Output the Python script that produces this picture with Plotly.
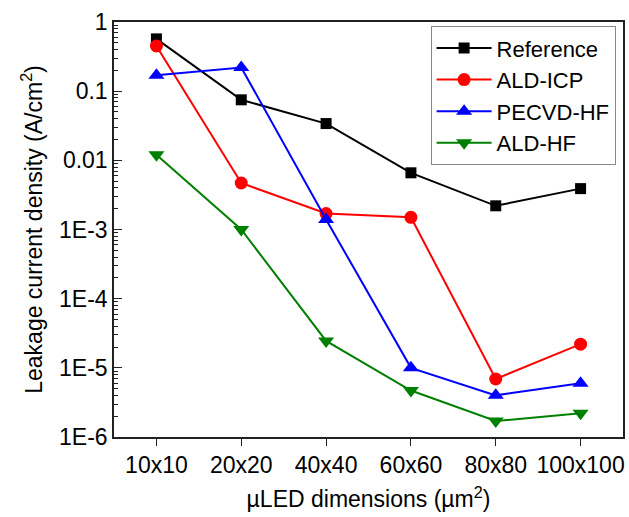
import plotly.graph_objects as go

categories = ["10x10", "20x20", "40x40", "60x60", "80x80", "100x100"]
reference = [0.57, 0.075, 0.034, 0.0066, 0.0022, 0.0039]
ald_icp = [0.45, 0.0047, 0.0017, 0.0015, 6.9e-6, 2.2e-5]
pecvd_hf = [0.17, 0.22, 0.0014, 1.0e-5, 4.0e-6, 6.0e-6]
ald_hf = [0.012, 0.001, 2.45e-5, 4.7e-6, 1.7e-6, 2.2e-6]

ytick_vals = [1e-6, 1e-5, 1e-4, 1e-3, 1e-2, 1e-1, 1]
ytick_text = ["1E-6", "1E-5", "1E-4", "1E-3", "0.01", "0.1", "1"]

series = [
    ("Reference", reference, "black", "square", 11),
    ("ALD-ICP", ald_icp, "red", "circle", 13),
    ("PECVD-HF", pecvd_hf, "blue", "triangle-up", 14),
    ("ALD-HF", ald_hf, "green", "triangle-down", 14),
]

fig = go.Figure()
for name, vals, color, sym, size in series:
    fig.add_trace(go.Scatter(
        x=categories, y=vals, name=name, mode="lines+markers",
        line=dict(color=color, width=2),
        marker=dict(symbol=sym, size=size, color=color),
    ))

minor_vals = [m * 10.0 ** e for e in range(-6, 0) for m in range(2, 10)]

font = "Liberation Sans, Arial, sans-serif"
fig.update_layout(
    width=629, height=517,
    margin=dict(l=114, r=4, t=22, b=80),
    plot_bgcolor="white", paper_bgcolor="white",
    font=dict(family=font, size=23, color="black"),
    showlegend=True,
    legend=dict(
        x=0.622, y=0.99, xanchor="left", yanchor="top",
        bordercolor="#888888", borderwidth=1, bgcolor="white",
        font=dict(size=22), tracegroupgap=0, itemwidth=55,
    ),
    xaxis=dict(
        type="category", range=[-0.5, 5.5],
        showline=True, mirror=True, linecolor="#222", linewidth=1.5,
        ticks="outside", ticklen=7, tickwidth=1.3, tickcolor="#222",
        showgrid=False, zeroline=False,
        title=dict(text="µLED dimensions (µm<sup>2</sup>)", standoff=14,
                   font=dict(size=23)),
    ),
    yaxis=dict(
        type="log", range=[-6, 0],
        tickvals=ytick_vals, ticktext=ytick_text,
        showline=True, mirror=True, linecolor="#222", linewidth=1.5,
        ticks="inside", ticklen=8, tickwidth=1.3, tickcolor="#222",
        showgrid=False, zeroline=False,
        minor=dict(tickvals=minor_vals, ticks="inside", ticklen=4,
                   tickwidth=1, tickcolor="#222", showgrid=False),
        title=dict(text="Leakage current density (A/cm<sup>2</sup>)",
                   standoff=10, font=dict(size=23)),
    ),
)

fig.write_html("out.html")
